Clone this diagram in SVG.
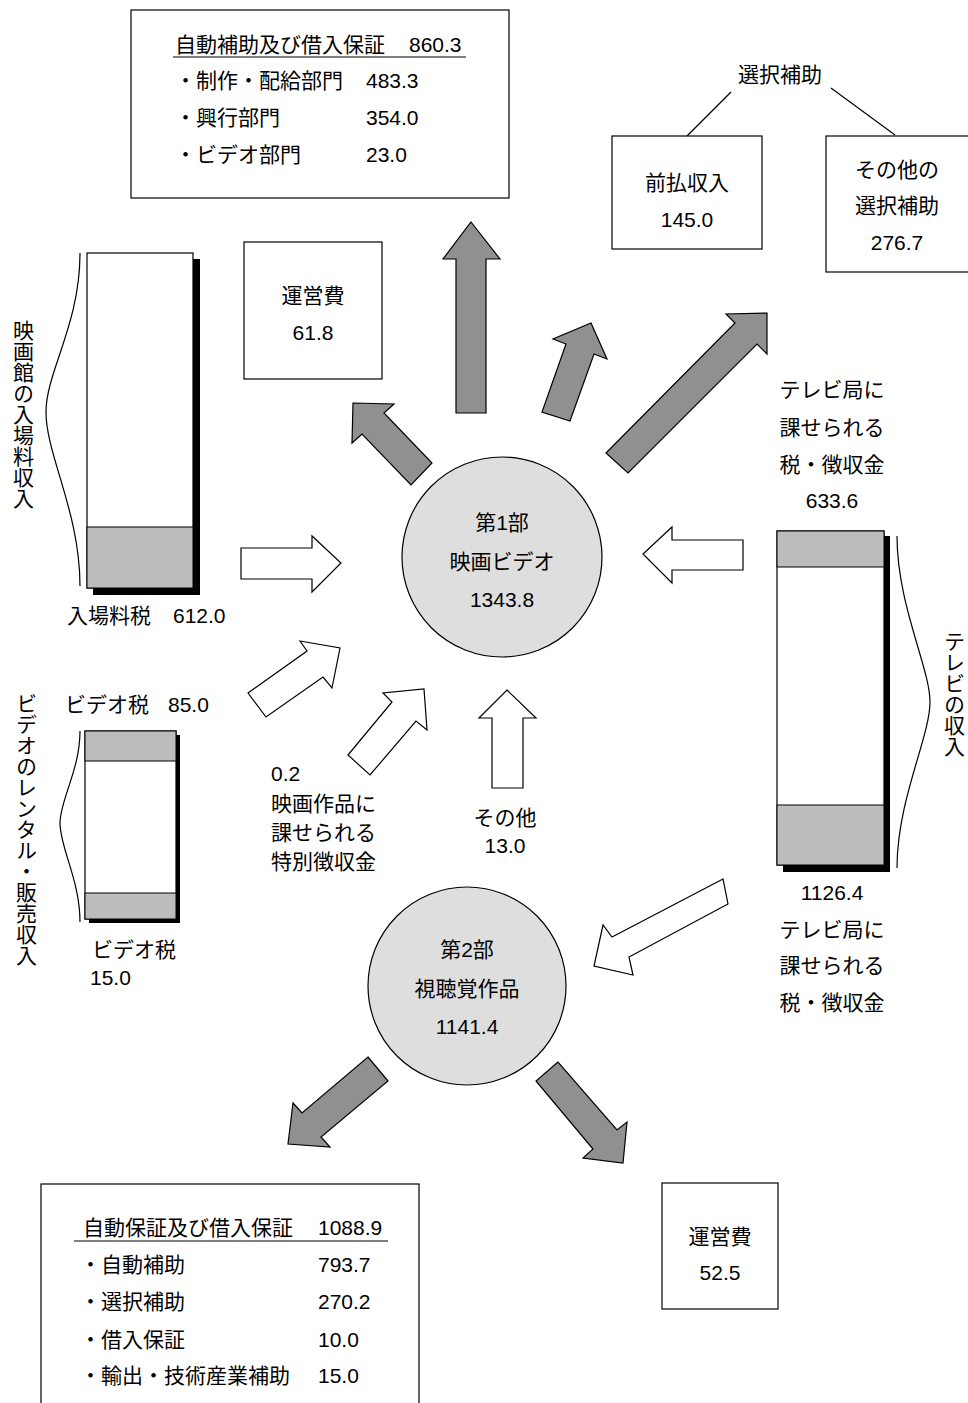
<svg xmlns="http://www.w3.org/2000/svg" width="968" height="1403" viewBox="0 0 968 1403">
<style>
text{font-family:"Liberation Sans","Noto Sans CJK JP",sans-serif;font-size:21px;fill:#000}
.m{text-anchor:middle}
.v{writing-mode:vertical-rl}
.box{fill:#fff;stroke:#000;stroke-width:1.2}
.ga{fill:#909090;stroke:#000;stroke-width:1.2;stroke-linejoin:miter}
.wa{fill:#fff;stroke:#000;stroke-width:1.2}
.brace{fill:none;stroke:#000;stroke-width:1.2}
.circ{fill:#dedede;stroke:#000;stroke-width:1.2}
.grey{fill:#bcbcbc;stroke:#000;stroke-width:1}
.sh{fill:#000}
.ln{stroke:#000;stroke-width:1.2;fill:none}
</style>
<rect width="968" height="1403" fill="#fff"/>

<g id="top-guarantee">
<rect class="box" x="131" y="10" width="378" height="188"/>
<text x="175" y="52">自動補助及び借入保証</text><text x="409" y="52">860.3</text>
<line class="ln" x1="173" y1="57" x2="466" y2="57"/>
<text x="175" y="88">・制作・配給部門</text><text x="366" y="88">483.3</text>
<text x="175" y="125">・興行部門</text><text x="366" y="125">354.0</text>
<text x="175" y="162">・ビデオ部門</text><text x="366" y="162">23.0</text>
</g>

<g id="select-aid">
<text class="m" x="780" y="82">選択補助</text>
</g>
<g id="prepaid">
<rect class="box" x="612" y="136" width="150" height="113"/>
<text class="m" x="687" y="190">前払収入</text>
<text class="m" x="687" y="227">145.0</text>
</g>
<g id="other-select">
<rect class="box" x="826" y="136" width="160" height="136"/>
<text class="m" x="897" y="177">その他の</text>
<text class="m" x="897" y="213">選択補助</text>
<text class="m" x="897" y="250">276.7</text>
</g>

<g id="opcost1">
<rect class="box" x="244" y="242" width="138" height="137"/>
<text class="m" x="313" y="303">運営費</text>
<text class="m" x="313" y="340">61.8</text>
</g>

<g id="cinema-bar">
<rect class="sh" x="93" y="259" width="107" height="336"/>
<rect class="box" x="87" y="253" width="106" height="335"/>
<rect class="grey" x="87" y="527" width="106" height="61"/>
<path class="brace" d="M80,253 C80,325 46,372 46,412 C46,455 80,512 80,586"/>
<text class="v" x="22" y="320">映画館の入場料収入</text>
<text x="67" y="623">入場料税</text><text x="173" y="623">612.0</text>
</g>

<g id="video-bar">
<text x="65" y="712">ビデオ税</text><text x="168" y="712">85.0</text>
<rect class="sh" x="89" y="735" width="91" height="188"/>
<rect class="box" x="85" y="731" width="91" height="188"/>
<rect class="grey" x="85" y="731" width="91" height="30"/>
<rect class="grey" x="85" y="893" width="91" height="26"/>
<path class="brace" d="M80,731 C80,770 60,800 60,823 C60,848 80,880 80,922"/>
<text class="v" x="25" y="693">ビデオのレンタル・販売収入</text>
<text x="92" y="957">ビデオ税</text>
<text x="90" y="985">15.0</text>
</g>

<g id="tv-bar">
<rect class="sh" x="783" y="536" width="107" height="336"/>
<rect class="box" x="777" y="531" width="107" height="334"/>
<rect class="grey" x="777" y="531" width="107" height="36"/>
<rect class="grey" x="777" y="805" width="107" height="60"/>
<path class="brace" d="M897,536 C897,605 930,668 930,702 C930,737 897,800 897,868"/>
<text class="v" x="953" y="631">テレビの収入</text>
</g>

<g id="tv-tax-top">
<text class="m" x="832" y="397">テレビ局に</text>
<text class="m" x="832" y="435">課せられる</text>
<text class="m" x="832" y="472">税・徴収金</text>
<text class="m" x="832" y="508">633.6</text>
</g>
<g id="tv-tax-bottom">
<text class="m" x="832" y="900">1126.4</text>
<text class="m" x="832" y="937">テレビ局に</text>
<text class="m" x="832" y="973">課せられる</text>
<text class="m" x="832" y="1010">税・徴収金</text>
</g>

<g id="special-levy">
<text x="271" y="781">0.2</text>
<text x="271" y="811">映画作品に</text>
<text x="271" y="840">課せられる</text>
<text x="271" y="869">特別徴収金</text>
</g>
<g id="other">
<text class="m" x="505" y="825">その他</text>
<text class="m" x="505" y="853">13.0</text>
</g>

<g id="part1">
<circle class="circ" cx="502" cy="557" r="100"/>
<text class="m" x="502" y="530">第1部</text>
<text class="m" x="502" y="569">映画ビデオ</text>
<text class="m" x="502" y="607">1343.8</text>
</g>
<g id="part2">
<circle class="circ" cx="467" cy="986" r="99"/>
<text class="m" x="467" y="957">第2部</text>
<text class="m" x="467" y="996">視聴覚作品</text>
<text class="m" x="467" y="1034">1141.4</text>
</g>

<g id="bottom-guarantee">
<rect class="box" x="41" y="1184" width="378" height="240"/>
<text x="83" y="1235">自動保証及び借入保証</text><text x="318" y="1235">1088.9</text>
<line class="ln" x1="74" y1="1241" x2="388" y2="1241"/>
<text x="80" y="1272">・自動補助</text><text x="318" y="1272">793.7</text>
<text x="80" y="1309">・選択補助</text><text x="318" y="1309">270.2</text>
<text x="80" y="1347">・借入保証</text><text x="318" y="1347">10.0</text>
<text x="80" y="1383">・輸出・技術産業補助</text><text x="318" y="1383">15.0</text>
</g>

<g id="opcost2">
<rect class="box" x="662" y="1183" width="116" height="126"/>
<text class="m" x="720" y="1244">運営費</text>
<text class="m" x="720" y="1280">52.5</text>
</g>

<g id="connectors">
<line class="ln" x1="731" y1="92" x2="687" y2="136"/>
<line class="ln" x1="831" y1="88" x2="895" y2="135"/>
<polygon class="ga" points="471,222 500,259 486,259 486,413 456,413 456,259 443,259"/>
<polygon class="ga" points="353,403 394,404 384,413 432,463 411,485 362,434 352,443"/>
<polygon class="ga" points="591,323 607,359 594,354 570,421 542,412 566,344 553,339"/>
<polygon class="ga" points="606,453 735,323 726,314 767,313 767,354 757,344 628,473"/>
<polygon class="ga" points="368,1057 388,1081 321,1137 330,1147 288,1144 293,1103 302,1113"/>
<polygon class="ga" points="558,1062 536,1081 593,1149 583,1158 623,1163 627,1122 617,1130"/>
<polygon class="wa" points="241,548 312,548 312,536 341,563 312,592 312,579 241,579"/>
<polygon class="wa" points="743,540 672,540 672,527 643,554 672,583 672,570 743,570"/>
<polygon class="wa" points="248,693 307,651 300,641 340,648 332,688 323,677 266,717"/>
<polygon class="wa" points="348,755 392,702 383,693 424,689 427,730 416,721 370,775"/>
<polygon class="wa" points="507,690 536,718 523,718 523,788 492,788 492,718 479,718"/>
<polygon class="wa" points="723,879 612,937 603,925 594,966 633,975 629,957 728,904"/>
</g>
</svg>
